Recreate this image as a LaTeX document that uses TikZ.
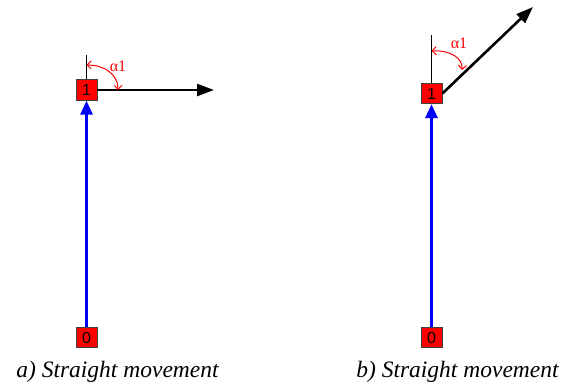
\documentclass[tikz,border=0pt]{standalone}
\usepackage{fontspec}
\setmainfont{Liberation Serif}
\newfontfamily\digitfont{Liberation Sans}
\usetikzlibrary{arrows.meta}
\begin{document}
\begin{tikzpicture}[x=1pt,y=-1pt,
  statebox/.style={draw=black!75,line width=0.8pt,fill=red,minimum width=21pt,minimum height=20.5pt,inner sep=0pt,font=\digitfont\fontsize{16}{16}\selectfont},
  moveline/.style={line width=3pt,blue,-{Triangle[length=14pt,width=12pt]}},
  headline/.style={line width=2.6pt,black,-{Triangle[length=17pt,width=12pt]}},
  refline/.style={line width=1pt,black},
  anglearc/.style={line width=1pt,red,{Straight Barb[length=4pt,width=8pt]}-{Straight Barb[length=4pt,width=8pt]}},
  anglelabel/.style={text=red,font=\fontsize{16}{16}\selectfont},
  caption/.style={font=\itshape\fontsize{23.5}{24}\selectfont}]
\useasboundingbox (0,0) rectangle (574,387);
% panel a
\node[statebox] (a0) at (86.5,337.5) {0};
\node[statebox] (a1) at (86.5,90) {1};
\coordinate (aup) at (86.5,55);
\coordinate (ahead) at (214,90);
\draw[moveline] (a0.north) -- (a1.south);
\draw[refline] (a1.north) -- (aup);
\draw[headline] (a1.east) -- (ahead);
\coordinate (aas) at (86.5,65);
\coordinate (aae) at (118,90);
\draw[anglearc] (aas) .. controls (104,65) and (118,74) .. (aae);
\node[anglelabel] (aal) at (118,66) {α1};
\node[caption] (acap) at (117.5,372) {a) Straight movement};
% panel b
\node[statebox] (b0) at (431.5,337.5) {0};
\node[statebox] (b1) at (431.5,93.5) {1};
\coordinate (bup) at (431.5,35);
\coordinate (bhead) at (533,7);
\draw[moveline] (b0.north) -- (b1.south);
\draw[refline] (b1.north) -- (bup);
\draw[headline] (b1.east) -- (bhead);
\coordinate (bas) at (431.5,51);
\coordinate (bae) at (462,70);
\draw[anglearc] (bas) .. controls (450,50) and (463,58) .. (bae);
\node[anglelabel] (bal) at (459,43) {α1};
\node[caption] (bcap) at (457.5,372) {b) Straight movement};
\end{tikzpicture}
\end{document}
